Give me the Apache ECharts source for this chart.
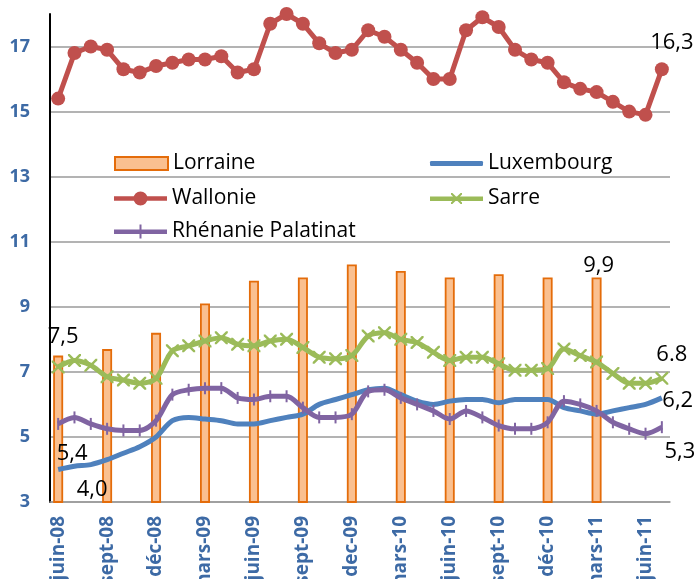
<!DOCTYPE html>
<html>
<head>
<meta charset="utf-8">
<script src="https://cdn.jsdelivr.net/npm/echarts@6/dist/echarts.min.js"></script>
<style>
html,body{margin:0;padding:0;background:#fff;}
#chart{width:698px;height:579px;}
</style>
</head>
<body>
<div id="chart"></div>
<script>
var months = ['juin-08','juil-08','août-08','sept-08','oct-08','nov-08','déc-08','janv-09','févr-09','mars-09','avr-09','mai-09',
  'juin-09','juil-09','août-09','sept-09','oct-09','nov-09','dec-09','janv-10','févr-10','mars-10','avr-10','mai-10',
  'juin-10','juil-10','août-10','sept-10','oct-10','nov-10','déc-10','janv-11','févr-11','mars-11','avr-11','mai-11',
  'juin-11','juil-11'];
var lorraine = [7.5,null,null,7.7,null,null,8.2,null,null,9.1,null,null,
  9.8,null,null,9.9,null,null,10.3,null,null,10.1,null,null,
  9.9,null,null,10.0,null,null,9.9,null,null,9.9,null,null,null,null];
var luxembourg = [4.0,4.1,4.15,4.3,4.5,4.7,5.0,5.5,5.6,5.55,5.5,5.4,5.4,5.5,5.6,5.7,6.0,6.15,6.3,6.45,6.5,6.3,6.1,6.0,
  6.1,6.15,6.15,6.05,6.15,6.15,6.15,5.9,5.8,5.7,5.8,5.9,6.0,6.2];
var wallonie = [15.4,16.8,17.0,16.9,16.3,16.2,16.4,16.5,16.6,16.6,16.7,16.2,16.3,17.7,18.0,17.7,17.1,16.8,16.9,17.5,17.3,16.9,16.5,16.0,
  16.0,17.5,17.9,17.6,16.9,16.6,16.5,15.9,15.7,15.6,15.3,15.0,14.9,16.3];
var sarre = [7.15,7.35,7.2,6.85,6.75,6.65,6.8,7.65,7.8,7.95,8.05,7.85,7.8,7.95,8.0,7.75,7.45,7.4,7.5,8.1,8.2,8.0,7.9,7.6,
  7.35,7.45,7.45,7.25,7.05,7.05,7.1,7.7,7.5,7.3,6.95,6.65,6.65,6.8];
var rhenanie = [5.4,5.6,5.4,5.25,5.2,5.2,5.5,6.3,6.45,6.5,6.5,6.2,6.15,6.25,6.25,5.9,5.6,5.6,5.7,6.4,6.45,6.2,6.0,5.8,
  5.55,5.8,5.6,5.35,5.25,5.25,5.45,6.1,6.0,5.8,5.45,5.25,5.1,5.3];
var labelTexts = {
  lorraine: {0:'7,5', 33:'9,9'},
  luxembourg: {0:'4,0', 37:'6,2'},
  wallonie: {37:'16,3'},
  sarre: {37:'6.8'},
  rhenanie: {0:'5,4', 37:'5,3'}
};

var FONT = '"Open Sans", "DejaVu Sans", sans-serif';
var AXIS_BLUE = '#3d6aa5';
var lblBase = {show:true, color:'#000', fontSize:22, fontFamily:FONT};

function withLabels(values, texts, specs){
  return values.map(function(v, i){
    if (texts[i] !== undefined && v !== null) {
      var s = specs[i];
      return {value:v, label:Object.assign({}, lblBase, {formatter:texts[i], position:s.pos, offset:s.off})};
    }
    return v;
  });
}

var xSymbol = 'path://M0,0 L1.6,0 L6,4.4 L10.4,0 L12,0 L12,1.6 L7.6,6 L12,10.4 L12,12 L10.4,12 L6,7.6 L1.6,12 L0,12 L0,10.4 L4.4,6 L0,1.6 Z';
var rhenIcon = 'path://M0,5 L53,5 L53,9.5 L0,9.5 Z M25.5,0 L27.5,0 L27.5,14 L25.5,14 Z';
var wallIcon = 'path://M0,5 L20,5 L20,9.5 L0,9.5 Z M33,5 L53,5 L53,9.5 L33,9.5 Z M19.5,7.25 A7,7 0 1,1 33.5,7.25 A7,7 0 1,1 19.5,7.25 Z';
var sarreIcon = 'path://M0,5 L53,5 L53,9.5 L0,9.5 Z M21,1.5 L22.4,1.5 L26.5,5.6 L30.6,1.5 L32,1.5 L32,2.9 L27.9,7 L32,11.1 L32,12.5 L30.6,12.5 L26.5,8.4 L22.4,12.5 L21,12.5 L21,11.1 L25.1,7 L21,2.9 Z';

var chart = echarts.init(document.getElementById('chart'), null, {renderer:'canvas'});
var legendText = {color:'#000', fontSize:21, fontFamily:FONT};
function lg(name, icon, left, top, h, color){
  var item = {name:name, icon:icon};
  if (color) item.itemStyle = {color:color, borderWidth:0};
  return {data:[item], left:left, top:top, itemWidth:53, itemHeight:h,
    textStyle:legendText, selectedMode:false, lineStyle:{width:5, cap:'round'}};
}
var option = {
  animation:false,
  backgroundColor:'#fff',
  grid:{left:50, right:28, top:14, bottom:77, containLabel:false, outerBoundsMode:'none'},
  legend:[
    lg('Lorraine', 'rect', 109, 148, 13),
    lg('Luxembourg', 'roundRect', 425, 148, 5, '#4F81BD'),
    lg('Wallonie', wallIcon, 109, 183, 14),
    lg('Sarre', sarreIcon, 425, 183, 14),
    lg('Rhénanie Palatinat', rhenIcon, 109, 216, 14)
  ],
  xAxis:{
    type:'category', data:months, boundaryGap:true,
    axisLine:{show:true, lineStyle:{color:'#9a9a9a', width:1.5}},
    axisTick:{show:false},
    axisLabel:{interval:2, rotate:90, margin:14, color:AXIS_BLUE, fontWeight:'bold', fontSize:19, fontFamily:FONT},
    splitLine:{show:false}
  },
  yAxis:{
    type:'value', min:3, max:18, interval:1,
    axisLine:{show:true, lineStyle:{color:'#000', width:2}},
    axisTick:{show:false},
    axisLabel:{margin:20, color:AXIS_BLUE, fontWeight:'bold', fontSize:18, fontFamily:FONT, showMaxLabel:false,
      formatter:function(v){ return (v % 2 === 1) ? String(v) : ''; }},
    splitLine:{show:true, showMaxLine:false, lineStyle:{color:['#9a9a9a','rgba(0,0,0,0)'], width:1.5}}
  },
  series:[
    {
      name:'Lorraine', type:'bar', barWidth:10, z:1,
      itemStyle:{color:'#FAC090', borderColor:'#E46C0A', borderWidth:1.8},
      data:withLabels(lorraine, labelTexts.lorraine, {0:{pos:'top', off:[5,-3]}, 33:{pos:'top', off:[2,4]}})
    },
    {
      name:'Luxembourg', type:'line', smooth:0.3, z:3,
      symbol:'circle', symbolSize:1, showSymbol:true, showAllSymbol:true,
      lineStyle:{color:'#4F81BD', width:5},
      itemStyle:{color:'rgba(79,129,189,0)'},
      data:withLabels(luxembourg, labelTexts.luxembourg, {0:{pos:'bottom', off:[34,4]}, 37:{pos:'right', off:[-5,3]}})
    },
    {
      name:'Wallonie', type:'line', smooth:false, z:3,
      symbol:'circle', symbolSize:14, showAllSymbol:true,
      lineStyle:{color:'#C0504D', width:5},
      itemStyle:{color:'#C0504D'},
      data:withLabels(wallonie, labelTexts.wallonie, {37:{pos:'top', off:[10,-4]}})
    },
    {
      name:'Sarre', type:'line', smooth:0.3, z:3,
      symbol:xSymbol, symbolSize:13, showAllSymbol:true,
      lineStyle:{color:'#9BBB59', width:5},
      itemStyle:{color:'#9BBB59'},
      data:withLabels(sarre, labelTexts.sarre, {37:{pos:'top', off:[10,-1]}})
    },
    {
      name:'Rhénanie Palatinat', type:'line', smooth:0.3, z:4,
      symbol:'rect', symbolSize:[2,12], showAllSymbol:true,
      lineStyle:{color:'#8064A2', width:5},
      itemStyle:{color:'#8064A2'},
      data:withLabels(rhenanie, labelTexts.rhenanie, {0:{pos:'bottom', off:[14,8]}, 37:{pos:'bottom', off:[18,3]}})
    }
  ]
};
chart.setOption(option);
</script>
</body>
</html>
